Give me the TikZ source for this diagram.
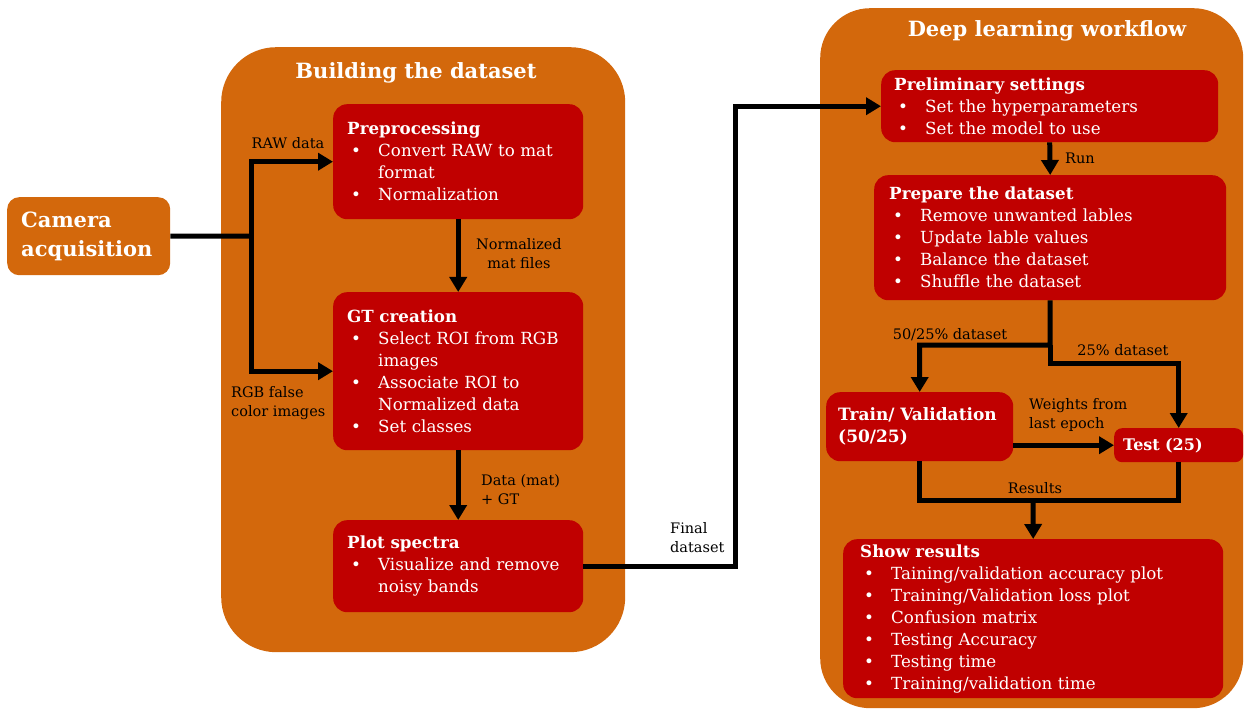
\documentclass[tikz,border=0pt]{standalone}
\usepackage{fontspec}
\setmainfont{DejaVu Serif}
\usepackage{tikz}
\usetikzlibrary{arrows.meta}
\definecolor{orng}{RGB}{211,104,12}
\definecolor{dred}{RGB}{192,0,0}
\newcommand{\bitem}{\hspace*{4pt}\makebox[27pt][l]{\textbullet}}
\newcommand{\bcont}{\hspace*{31pt}}

\begin{document}
\begin{tikzpicture}[x=1pt,y=-1pt,
        panel/.style={fill=orng,anchor=north west,inner sep=0pt},
        box/.style={fill=dred,text=white,rounded corners=14pt,anchor=north west,align=left,
          inner xsep=14pt,inner ysep=3pt,font=\fontsize{16.7}{22}\selectfont},
        title/.style={text=white,font=\bfseries\fontsize{21}{24}\selectfont},
        lbl/.style={text=black,inner sep=0pt,font=\fontsize{14.5}{19}\selectfont},
        wire/.style={line width=5pt},
        arrow/.style={wire,-{Triangle[length=15pt,width=17pt]}}]
        \useasboundingbox (0,0) rectangle (1245,711);

        % the two big panels
        \node[panel,rounded corners=55pt,minimum width=404,minimum height=605] (build) at (221,47) {};
        \node[panel,rounded corners=50pt,minimum width=423,minimum height=700] (deep) at (820,8) {};
        \node[title] (tbuild) at (416,73) {Building the dataset};
        \node[title] (tdeep) at (1047,31) {Deep learning workflow};

        \node[panel,rounded corners=12pt,minimum width=163,minimum height=78,text width=135,
          inner xsep=14pt,align=left,text=white,font=\bfseries\fontsize{21}{29}\selectfont]
          (cam) at (7,197) {Camera\\acquisition};

        % building the dataset
        \node[box,text width=222,minimum height=115] (pre) at (333,104)
          {\textbf{Preprocessing}\\ \bitem Convert RAW to mat\\ \bcont format\\ \bitem Normalization};
        \node[box,text width=222,minimum height=158] (gt) at (333,292)
          {\textbf{GT creation}\\ \bitem Select ROI from RGB\\ \bcont images\\ \bitem Associate ROI to\\
           \bcont Normalized data\\ \bitem Set classes};
        \node[box,text width=222,minimum height=92] (plot) at (333,520)
          {\textbf{Plot spectra}\\ \bitem Visualize and remove\\ \bcont noisy bands};

        % deep learning workflow
        \node[box,text width=311,minimum height=72,inner xsep=13pt] (prelim) at (881,70)
          {\textbf{Preliminary settings}\\ \bitem Set the hyperparameters\\ \bitem Set the model to use};
        \node[box,text width=322,minimum height=125,inner xsep=15pt] (prep) at (874,175)
          {\textbf{Prepare the dataset}\\ \bitem Remove unwanted lables\\ \bitem Update lable values\\
           \bitem Balance the dataset\\ \bitem Shuffle the dataset};
        \node[box,text width=163,minimum height=69,inner xsep=12pt,
          font=\bfseries\fontsize{17}{22}\selectfont] (train) at (826,392) {Train/ Validation\\(50/25)};
        \node[box,text width=111,minimum height=34,inner xsep=9pt,rounded corners=8pt,
          font=\bfseries\fontsize{16}{20}\selectfont] (test) at (1114,428) {Test (25)};
        \node[box,text width=346,minimum height=159,inner xsep=17pt] (show) at (843,539)
          {\textbf{Show results}\\ \bitem Taining/validation accuracy plot\\ \bitem Training/Validation loss plot\\
           \bitem Confusion matrix\\ \bitem Testing Accuracy\\ \bitem Testing time\\ \bitem Training/validation time};

        % connectors
        \coordinate (split) at (251,236);
        \coordinate (turn) at (735,300);
        \coordinate (fork) at (1050,345);
        \coordinate (fork2) at (1050,363);
        \coordinate (merge) at (1033,500);
        \draw[wire] (cam.east) -- (split);
        \draw[arrow] (split) |- (pre.west);
        \draw[arrow] (split) |- (gt.west);
        \draw[arrow] (pre.south) -- (gt.north);
        \draw[arrow] (gt.south) -- (plot.north);
        \draw[arrow] (plot.east) -| (turn) |- (prelim.west);
        \draw[arrow] (prelim.south) -- (prep.north);
        \draw[arrow] (prep.south) -- (fork) -| (train.north);
        \draw[arrow] (fork) -- (fork2) -| (test.north);
        \draw[arrow] (train.east |- test.west) -- (test.west);
        \draw[wire] (train.south) |- (merge) -| (test.south);
        \draw[arrow] (merge) -- (show.north);

        % connector labels
        \node[lbl] (lraw) at (288,143) {RAW data};
        \node[lbl,anchor=west,align=left] (lrgb) at (231,403) {RGB false\\color images};
        \node[lbl,align=center] (lnorm) at (519,254) {Normalized\\mat files};
        \node[lbl,anchor=west,align=left] (ldata) at (481,490) {Data (mat)\\+ GT};
        \node[lbl,anchor=west,align=left] (lfinal) at (670,538) {Final\\dataset};
        \node[lbl] (lrun) at (1080,158) {Run};
        \node[lbl] (lfifty) at (950,335) {50/25\% dataset};
        \node[lbl] (lquart) at (1123,350) {25\% dataset};
        \node[lbl,anchor=west,align=left] (lwts) at (1029,415) {Weights from\\last epoch};
        \node[lbl] (lres) at (1035,488) {Results};
\end{tikzpicture}
\end{document}
